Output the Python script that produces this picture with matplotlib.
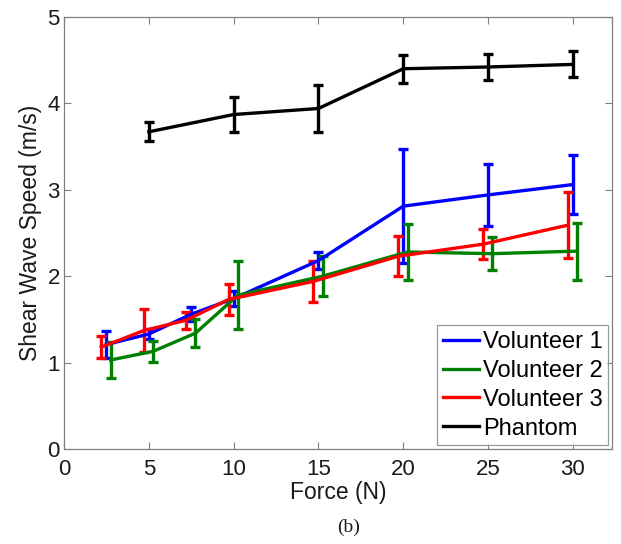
import matplotlib
matplotlib.use("Agg")
import matplotlib.pyplot as plt
from matplotlib.lines import Line2D
import numpy as np

# ---- data ----
force_vol = [2.5, 5, 7.5, 10, 15, 20, 25, 30]
force_ph = [5, 10, 15, 20, 25, 30]

v1_mean = [1.21, 1.33, 1.56, 1.74, 2.18, 2.81, 2.94, 3.06]
v1_err = [0.16, 0.06, 0.08, 0.09, 0.10, 0.66, 0.36, 0.34]

v2_mean = [1.03, 1.13, 1.34, 1.78, 2.00, 2.28, 2.26, 2.29]
v2_err = [0.21, 0.12, 0.16, 0.39, 0.23, 0.32, 0.19, 0.33]

v3_mean = [1.18, 1.37, 1.49, 1.73, 1.94, 2.23, 2.37, 2.59]
v3_err = [0.13, 0.25, 0.10, 0.18, 0.24, 0.23, 0.17, 0.38]

ph_mean = [3.67, 3.87, 3.94, 4.40, 4.42, 4.45]
ph_err = [0.11, 0.20, 0.27, 0.16, 0.15, 0.15]

x_offsets = [0.0, 0.25, -0.3, 0.0]

labels = ["Volunteer 1", "Volunteer 2", "Volunteer 3", "Phantom"]
colors = ["#0000ff", "#008000", "#ff0000", "#000000"]

plt.rcParams['font.family'] = ['Liberation Sans', 'DejaVu Sans']

fig = plt.figure(figsize=(6.21, 5.44), dpi=100)
ax = fig.add_axes([0.103, 0.1746, 0.8825, 0.7944])

series = [
    (force_vol, v1_mean, v1_err),
    (force_vol, v2_mean, v2_err),
    (force_vol, v3_mean, v3_err),
    (force_ph, ph_mean, ph_err),
]
for (x, m, e), off, lab, c in zip(series, x_offsets, labels, colors):
    ax.errorbar(np.array(x) + off, m, yerr=e, color=c, lw=2.4, elinewidth=2.4,
                capsize=3.5, capthick=2.4, label=lab)

ax.set_xlim(0, 32.3)
ax.set_ylim(0, 5)
ax.set_xticks([0, 5, 10, 15, 20, 25, 30])
ax.set_yticks([0, 1, 2, 3, 4, 5])
ax.tick_params(direction='in', top=True, right=True, length=5, width=0.8,
               color='#808080', labelsize=16, labelcolor='#1a1a1a')
ax.tick_params(axis='x', pad=7)
ax.tick_params(axis='y', pad=3)
for s in ax.spines.values():
    s.set_color('#808080')
    s.set_linewidth(0.9)

ax.set_xlabel("Force (N)", fontsize=16.5, color='#1a1a1a', labelpad=1)
ax.set_ylabel("Shear Wave Speed (m/s)", fontsize=16.5, color='#1a1a1a', labelpad=4)

lh = [Line2D([0], [0], color=c, lw=2.4) for c in colors]
leg = ax.legend(lh, labels, loc='lower right', fontsize=17, frameon=True,
                fancybox=False, edgecolor='#808080', handlelength=1.5,
                handletextpad=0.17, borderpad=0.25, labelspacing=0.29,
                borderaxespad=0.15)
leg.get_frame().set_linewidth(0.9)

fig.text(0.562, 0.031, "(b)", fontsize=14, family=['Liberation Serif'],
         ha='center', va='center', color='#1a1a1a')

fig.savefig("out.png", dpi=100)
